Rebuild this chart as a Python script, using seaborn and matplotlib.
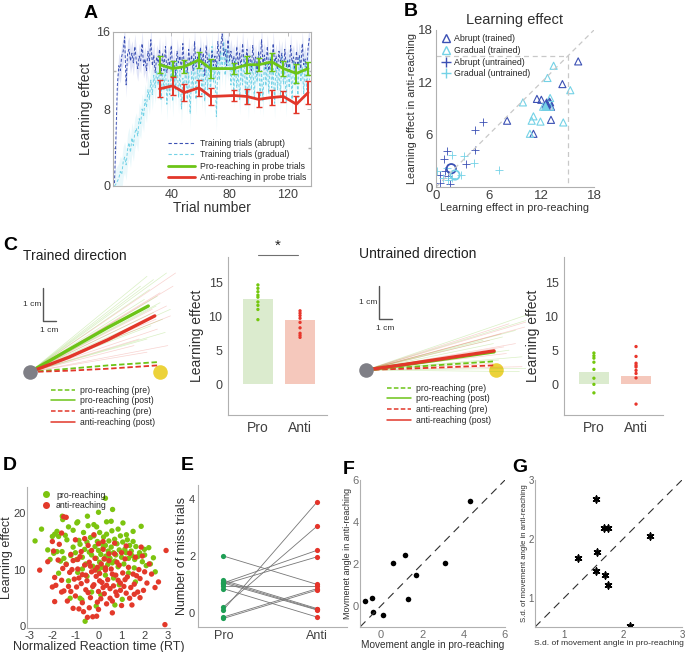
import numpy as np
import pandas as pd
import matplotlib
matplotlib.use("Agg")
import matplotlib.pyplot as plt
from matplotlib.lines import Line2D
from matplotlib.ticker import MultipleLocator
import seaborn as sns

# ---------------- data ----------------
# A: learning curves
abrupt_train = [0.3, 5.0, 10.5, 12.5, 12.0, 13.5, 14.0, 15.5, 10.5, 13.8, 14.2, 13.0, 13.8, 12.8, 14.5,
                13.0, 12.2, 13.5, 13.0, 14.8, 12.5, 13.2, 12.0, 14.0, 13.0, 15.2, 12.5, 13.6, 11.8, 13.4,
                12.8, 14.2, 11.5, 13.8, 12.0, 14.5, 11.8, 13.2, 12.5, 14.6, 12.0, 13.0, 11.5, 14.0, 12.8,
                13.5, 12.0, 14.8, 12.2, 13.0, 11.8, 14.2, 12.5, 13.6, 12.0, 15.0, 12.4, 13.4, 12.2, 14.4,
                12.6, 13.8, 11.5, 14.6, 12.8, 13.2, 12.0, 14.0, 12.5, 13.5, 12.2, 15.0, 13.0, 14.5, 15.8,
                13.5, 14.2, 12.5, 15.2, 13.0, 14.0, 12.8, 13.5, 12.0, 14.5, 12.5, 13.8, 12.2, 14.8, 13.0,
                12.4, 14.2, 12.8, 13.5, 12.0, 14.6, 12.6, 13.4, 11.8, 14.0, 12.5, 15.2, 12.8, 13.6, 12.2,
                14.5, 12.0, 13.2, 11.8, 14.8, 12.6, 13.5, 12.2, 14.0, 12.8, 13.8, 11.5, 14.2, 12.4, 13.0,
                12.0, 14.6, 12.8, 13.4, 11.8, 14.0, 12.5, 13.6, 12.2, 14.8, 12.6, 13.2, 12.0, 14.4, 15.5]
gradual_train = [0.0, 0.2, 0.5, 0.8, 1.5, 1.2, 2.5, 3.0, 2.2, 3.8, 4.5, 3.5, 5.0, 4.2, 5.5,
                 6.0, 5.2, 7.0, 6.5, 8.0, 7.2, 9.0, 8.2, 10.0, 9.0, 11.0, 9.5, 11.5, 10.2, 12.0,
                 10.5, 12.2, 9.0, 11.8, 10.0, 12.5, 8.5, 11.0, 9.5, 12.8, 8.8, 11.5, 10.0, 13.0, 9.2,
                 12.0, 8.0, 11.2, 9.8, 12.6, 9.0, 11.8, 7.5, 12.0, 10.2, 13.2, 9.0, 12.2, 10.5, 13.5,
                 9.5, 12.0, 8.8, 12.8, 10.0, 13.8, 9.2, 14.5, 10.8, 12.5, 7.2, 13.0, 11.0, 14.0, 12.0,
                 15.0, 11.5, 14.2, 12.5, 13.5, 10.5, 12.8, 9.8, 13.2, 10.2, 12.0, 9.0, 12.6, 10.5, 13.4,
                 9.5, 12.2, 8.5, 12.8, 10.0, 13.0, 9.2, 12.4, 10.8, 13.6, 9.0, 12.0, 8.8, 13.2, 10.4,
                 12.8, 9.6, 13.5, 10.2, 12.2, 8.6, 13.0, 10.0, 12.6, 9.4, 13.4, 10.6, 12.0, 8.8, 13.2,
                 10.2, 12.6, 9.0, 13.0, 10.4, 12.2, 9.2, 13.4, 10.8, 12.4, 9.6, 13.0, 10.0, 12.8, 11.0]
abrupt_sem = 1.3
gradual_sem = 1.6
probe_trials = [32, 41, 49, 59, 67, 83, 92, 100, 109, 117, 126, 134]
pro_probe = [12.6, 12.2, 12.4, 13.1, 12.2, 12.2, 12.6, 12.6, 12.9, 12.2, 11.7, 12.2]
pro_probe_err = [0.9, 0.8, 0.7, 0.8, 1.0, 0.6, 0.9, 0.7, 0.9, 0.8, 1.0, 0.7]
anti_probe = [10.1, 10.4, 9.7, 10.2, 9.3, 9.4, 9.3, 9.0, 9.2, 9.3, 8.5, 9.7]
anti_probe_err = [0.9, 0.9, 0.9, 0.8, 0.9, 0.6, 0.8, 0.8, 0.8, 0.6, 0.9, 1.2]

# B: pro vs anti learning effect
abr_tr_x = [16.2, 14.4, 11.5, 12.0, 13.0, 13.1, 12.6, 8.1, 13.1, 11.1, 12.9]
abr_tr_y = [14.4, 11.8, 10.1, 10.0, 9.7, 9.2, 9.2, 7.6, 7.7, 6.1, 9.8]
gra_tr_x = [13.4, 12.7, 15.3, 9.9, 13.0, 11.1, 10.9, 11.9, 14.5, 10.7, 13.0, 12.2]
gra_tr_y = [13.9, 12.5, 11.1, 9.7, 10.2, 8.1, 7.6, 7.5, 7.4, 6.1, 9.2, 9.2]
abr_un_x = [5.3, 4.4, 4.4, 1.25, 0.95, 3.4, 1.0, 0.5, 1.55, 0.4, 1.4]
abr_un_y = [7.4, 6.5, 4.2, 4.1, 3.2, 2.6, 1.8, 1.4, 0.4, 0.5, 1.3]
gra_un_x = [1.8, 3.2, 4.3, 7.2, 0.1, 0.8, 2.8, 1.4, 1.8, 1.2]
gra_un_y = [3.7, 3.5, 2.7, 1.9, 1.8, 1.0, 1.4, 0.8, 1.0, 2.2]
abr_tr_mean = (12.5, 9.6)
gra_tr_mean = (12.4, 9.3)
abr_un_mean = (1.74, 2.1)
gra_un_mean = (2.16, 1.37)

# C: trajectories (cm), end points of single trials
tr_pro_end_x = [9.0, 9.5, 10.5, 9.2, 9.8, 10.0, 9.5, 10.2, 8.8, 9.3, 10.4, 9.0, 8.5, 9.7, 10.8]
tr_pro_end_y = [2.9, 2.8, 3.0, 2.5, 2.3, 2.1, 1.8, 1.6, 2.2, 1.4, 1.2, 1.0, 2.6, 2.0, 1.9]
tr_anti_end_x = [11.2, 10.0, 10.5, 9.4, 10.8, 9.8, 8.4, 10.6, 9.0, 11.0, 9.7, 8.0]
tr_anti_end_y = [3.0, 2.4, 2.0, 1.9, 1.7, 1.3, 1.0, 0.8, 0.6, 2.6, 1.6, 0.8]
un_pro_end_x = [12.6, 12.3, 11.5, 10.5, 9.8, 11.0, 12.0, 10.2, 9.0, 12.5, 11.8]
un_pro_end_y = [1.7, 1.5, 1.2, 1.0, 0.8, 0.6, 0.4, 0.3, 0.9, 0.05, -0.05]
un_anti_end_x = [12.7, 12.2, 11.0, 10.4, 9.5, 10.8, 11.5, 9.8, 12.0, 10.6]
un_anti_end_y = [1.5, 1.3, 1.4, 1.1, 0.9, 0.5, 0.8, 0.2, 0.1, 0.7]
mean_x = [0, 3.0, 6.0, 9.1]
tr_pro_post_y = [0, 0.68, 1.35, 2.0]
tr_anti_post_x = [0, 3.0, 6.0, 9.6]
tr_anti_post_y = [0, 0.45, 0.98, 1.7]
un_pro_post_x = [0, 3.0, 6.0, 9.85]
un_pro_post_y = [0, 0.16, 0.33, 0.55]
un_anti_post_y = [0, 0.17, 0.35, 0.58]
pre_x = [0, 3.0, 6.0, 9.8]
tr_pro_pre_y = [0, 0.1, 0.2, 0.3]
tr_anti_pre_y = [0, 0.04, 0.1, 0.2]
un_pro_pre_y = [0, 0.08, 0.16, 0.26]
un_anti_pre_y = [0, 0.04, 0.08, 0.14]

# C: bar plots
groups = ["Pro", "Anti"]
tr_means = [12.5, 9.4]
tr_pro_subj = [14.6, 14.1, 13.6, 13.1, 12.8, 12.1, 11.6, 11.0, 9.5]
tr_anti_subj = [10.8, 10.45, 10.1, 9.7, 9.1, 8.3, 7.5, 7.2, 6.9]
un_means = [1.75, 1.2]
un_pro_subj = [4.6, 4.2, 3.85, 3.25, 2.2, 0.9, 0.0, -1.25]
un_anti_subj = [5.55, 4.1, 3.1, 2.8, 2.55, 2.05, 1.6, 0.95, -2.9]

# D: reaction time vs learning effect
pro_rt = [-2.75, -2.47, -2.0, -1.9, -1.8, -1.73, -1.57, -1.55, -0.94, -0.9, -0.48, -1.3, -1.44, -1.37,
          -1.94, -1.8, -1.58, -1.5, -1.73, -1.23, -0.8, -0.72, -0.58, -0.08, 0.3, 0.61, 0.35, 0.85,
          1.06, 1.85, 0.71, 1.14, 1.21, 1.42, 1.57, 1.78, 1.99, 2.18, 2.38, 2.46, 2.07, 1.03, 0.71,
          -1.65, -1.4, -1.2, -1.1, -1.0, -0.95, -0.85, -0.8, -0.7, -0.65, -0.6, -0.55, -0.5, -0.45,
          -0.4, -0.35, -0.3, -0.25, -0.2, -0.15, -0.1, -0.05, 0.0, 0.05, 0.05, 0.1, 0.12, 0.15, 0.2,
          0.22, 0.25, 0.3, 0.32, 0.35, 0.4, 0.42, 0.45, 0.5, 0.55, 0.58, 0.6, 0.65, 0.7, 0.75, 0.8,
          0.85, 0.9, 0.95, 1.0, 1.05, 1.1, 1.2, 1.25, 1.3, 1.35, 1.45, 1.5, 1.55, 1.62, 1.7, 1.9,
          2.0, 2.25, -2.1, -2.2, -0.9, -0.5, 0.0, 0.3, 0.65, 1.3, -0.3, 0.1, -1.1, -0.2, 0.55, 1.5,
          0.0, -0.7, -1.3, 0.9, 1.6, -0.1]
pro_le = [15.1, 17.2, 15.9, 16.3, 16.8, 15.9, 19.5, 18.9, 18.3, 18.5, 19.5, 17.6, 16.1, 15.3,
          12.9, 13.2, 13.2, 12.0, 9.35, 4.9, 4.9, 4.6, 0.8, 17.6, 22.7, 20.7, 18.5, 17.2,
          18.3, 17.7, 11.5, 13.6, 16.2, 13.3, 11.8, 13.0, 13.6, 13.9, 12.1, 9.6, 10.7, 4.7, 3.7,
          11.5, 11.0, 12.5, 14.0, 13.0, 11.8, 15.2, 14.5, 12.2, 16.6, 13.6, 11.0, 14.9, 17.8,
          13.1, 15.7, 12.6, 10.6, 16.0, 14.1, 12.0, 15.0, 13.4, 11.3, 16.6, 12.7, 14.7, 10.4, 13.9,
          15.8, 11.9, 14.3, 12.4, 16.3, 10.9, 13.3, 15.1, 12.0, 14.0, 16.9, 11.2, 13.0, 15.4, 12.6, 14.6,
          10.5, 13.5, 16.0, 12.2, 14.9, 11.0, 13.0, 15.3, 12.0, 14.3, 12.5, 15.0, 10.3, 14.1, 12.3, 11.4,
          12.6, 11.0, 11.8, 13.5, 9.5, 8.8, 9.8, 9.0, 8.5, 9.4, 6.0, 5.5, 17.0, 18.0, 18.6, 16.8,
          20.2, 10.1, 8.0, 7.3, 7.8, 3.5]
anti_rt = [-2.55, -2.0, -1.95, -1.9, -1.85, -1.9, -1.55, -1.4, -1.5, -1.35, -1.3, -1.25, -1.2, -1.1,
           -1.05, -1.0, -0.95, -0.9, -0.85, -0.8, -0.75, -0.7, -0.65, -0.6, -0.55, -0.5, -0.45, -0.4,
           -0.35, -0.3, -0.25, -0.2, -0.15, -0.1, -0.05, 0.0, 0.05, 0.1, 0.12, 0.15, 0.2, 0.25, 0.3,
           0.35, 0.4, 0.45, 0.5, 0.55, 0.6, 0.65, 0.7, 0.75, 0.8, 0.85, 0.9, 0.95, 1.0, 1.05, 1.1,
           1.15, 1.2, 1.25, 1.3, 1.4, 1.45, 1.5, 1.55, 1.6, 1.7, 1.75, 1.8, 1.85, 1.95, 2.0, 2.1, 2.2,
           2.93, 2.88, -1.51, -0.48, -0.08, -1.7, -1.6, -0.6, -0.2, 0.2, 0.7, 1.2, -1.0, 0.0, -0.75,
           -0.3, 0.45, 1.0, -1.4, -0.35, 0.25, 0.8, 1.35, 1.9, -1.75, -1.15, -0.55, 0.05, 0.6, 1.15,
           1.65, -1.6, -0.85, -0.15, 0.35, 0.95, 1.55, -1.2, -0.45, 0.2, 0.75, 1.35, -0.7, -0.05, 0.5,
           0.0, 0.6, -1.1, -1.6, 2.45, 2.3, -2.2, -2.0, 2.6, 1.8, -0.4, 0.3, -0.25, -0.9]
anti_le = [9.9, 15.0, 13.3, 8.6, 7.2, 4.3, 10.2, 19.3, 6.2, 4.4, 7.0, 9.5, 12.7, 11.6,
           8.3, 5.3, 6.9, 10.1, 3.0, 12.3, 7.5, 9.1, 2.5, 10.8, 6.4, 8.0, 14.3, 11.3,
           5.0, 9.6, 1.6, 7.3, 12.0, 8.8, 10.4, 6.1, 9.3, 4.8, 11.0, 7.7, 13.6, 5.7, 9.9,
           3.9, 8.2, 11.6, 6.6, 10.1, 4.4, 7.1, 12.8, 9.0, 5.4, 8.1, 10.8, 6.3, 3.6, 9.4, 7.0,
           11.9, 5.8, 8.7, 10.4, 6.8, 3.7, 9.2, 7.4, 12.2, 6.0, 10.0, 8.4, 14.0, 6.3, 9.6, 7.6, 11.0,
           13.4, 0.2, 19.4, 1.5, 1.7, 14.5, 16.5, 15.5, 16.2, 15.0, 14.7, 14.2, 15.3, 14.6, 13.2,
           13.4, 12.8, 13.0, 10.9, 10.6, 11.9, 11.3, 12.9, 12.4, 11.7, 10.0, 9.0, 8.0, 9.2, 8.2,
           8.9, 8.1, 8.5, 9.9, 7.2, 7.6, 5.6, 6.1, 5.9, 6.8, 6.0, 4.9, 4.1, 4.2, 4.9,
           2.9, 2.3, 3.1, 6.0, 6.8, 9.2, 11.4, 6.9, 7.8, 5.0, 3.2, 10.3, 7.0, 11.8]

# E: miss trials per subject
miss_pro = [2.0, 0.1, 0.2, 1.05, 1.0, 1.15, 1.1, 1.05, 0.95, 0.85, -0.15, -0.2]
miss_anti = [1.0, 3.9, 3.05, 2.2, 1.97, 0.15, 0.12, 0.1, 0.95, -0.15, 0.85, 0.8]

# F: movement angle
angle_pro = [-0.78, -0.42, -0.39, 0.11, 0.58, 1.16, 1.3, 1.72, 3.09, 4.33]
angle_anti = [0.22, 0.38, -0.3, -0.41, 2.06, 2.41, 0.35, 1.5, 2.05, 4.98]

# G: s.d. of movement angle
sd_pro = [1.54, 1.67, 1.74, 1.23, 1.56, 1.53, 1.69, 1.74, 2.46, 2.11]
sd_anti = [2.67, 2.19, 2.19, 1.68, 1.77, 1.45, 1.39, 1.22, 2.05, 0.51]

# ---------------- style ----------------
sns.set_theme(style="white")
plt.rcParams["font.family"] = ["Liberation Sans", "DejaVu Sans"]
plt.rcParams["axes.unicode_minus"] = False
plt.rcParams["axes.edgecolor"] = "#b0b0b0"
plt.rcParams["xtick.color"] = "#b0b0b0"
plt.rcParams["ytick.color"] = "#b0b0b0"
plt.rcParams["xtick.labelcolor"] = "#404040"
plt.rcParams["ytick.labelcolor"] = "#404040"
plt.rcParams["axes.labelcolor"] = "#303030"
plt.rcParams["axes.linewidth"] = 0.8

W, H = 685, 652
fig = plt.figure(figsize=(W / 100, H / 100), dpi=100)


def rect(l, t, r, b):
    return [l / W, 1 - b / H, (r - l) / W, (b - t) / H]


def ticks_on(ax, size=3):
    ax.tick_params(direction="in", length=size, width=0.6, pad=2)


C_ABR = "#3b50b4"
C_GRA = "#74d2e6"
C_PRO = "#6cc417"
C_ANTI = "#e2372a"
C_PRO_BAR = "#dbf0c9"
C_ANTI_BAR = "#ffc2b2"

# ---------------- A ----------------
axA = fig.add_axes(rect(113, 32, 311, 186))
trials = np.arange(1, len(abrupt_train) + 1)
ab = np.array(abrupt_train)
gr = np.array(gradual_train)
axA.fill_between(trials, ab - abrupt_sem, ab + abrupt_sem, color="#d5daf5", alpha=0.7, lw=0)
axA.fill_between(trials, gr - gradual_sem, gr + gradual_sem, color="#dcf4f9", alpha=0.6, lw=0)
sns.lineplot(x=trials, y=gr, ax=axA, color=C_GRA, lw=0.7, linestyle=(0, (3, 2)))
sns.lineplot(x=trials, y=ab, ax=axA, color=C_ABR, lw=0.7, linestyle=(0, (3, 2)))
sns.lineplot(x=probe_trials, y=pro_probe, ax=axA, color=C_PRO, lw=2)
axA.errorbar(probe_trials, pro_probe, yerr=pro_probe_err, fmt="none", ecolor=C_PRO, elinewidth=1.4, capsize=2)
sns.lineplot(x=probe_trials, y=anti_probe, ax=axA, color=C_ANTI, lw=2)
axA.errorbar(probe_trials, anti_probe, yerr=anti_probe_err, fmt="none", ecolor=C_ANTI, elinewidth=1.4, capsize=2)
axA.set_xlim(0, 136)
axA.set_ylim(0, 16)
axA.set_xticks([40, 80, 120])
axA.set_yticks([0, 8, 16])
axA.yaxis.set_minor_locator(MultipleLocator(4))
axA.tick_params(axis="both", labelsize=9)
ticks_on(axA)
axA.tick_params(which="minor", direction="in", length=2, left=True, right=True)
axA.tick_params(right=True, top=True)
axA.set_xlabel("Trial number", fontsize=10, labelpad=0)
axA.set_ylabel("Learning effect", fontsize=10, labelpad=2)
hA = [Line2D([], [], color=C_ABR, lw=0.8, ls=(0, (3, 2))),
      Line2D([], [], color=C_GRA, lw=0.8, ls=(0, (3, 2))),
      Line2D([], [], color=C_PRO, lw=2),
      Line2D([], [], color=C_ANTI, lw=2)]
axA.legend(hA, ["Training trials (abrupt)", "Training trials (gradual)",
                "Pro-reaching in probe trials", "Anti-reaching in probe trials"],
           loc="lower right", fontsize=6.2, frameon=False, handlelength=3.2,
           borderaxespad=0.1, labelspacing=0.25, handletextpad=0.6)

# ---------------- B ----------------
axB = fig.add_axes(rect(436, 30, 594, 187))
axB.plot([0, 18], [0, 18], color="#c8c8c8", ls=(0, (4, 3)), lw=0.9)
axB.plot([0, 15, 15], [15, 15, 0], color="#c8c8c8", ls=(0, (4, 3)), lw=0.9)
for xs, ys, c, m in [(abr_tr_x, abr_tr_y, C_ABR, "^"), (gra_tr_x, gra_tr_y, C_GRA, "^")]:
    sns.scatterplot(x=xs, y=ys, ax=axB, marker=m, s=26, color=c, edgecolor=c, linewidth=0.8)
    axB.collections[-1].set_facecolor("none")
for xs, ys, c in [(abr_un_x, abr_un_y, C_ABR), (gra_un_x, gra_un_y, C_GRA)]:
    sns.scatterplot(x=xs, y=ys, ax=axB, marker="+", s=34, color=c, linewidth=0.6)
sns.scatterplot(x=[abr_tr_mean[0]], y=[abr_tr_mean[1]], ax=axB, marker="^", s=45, color=C_ABR, edgecolor=C_ABR)
sns.scatterplot(x=[gra_tr_mean[0]], y=[gra_tr_mean[1]], ax=axB, marker="^", s=35, color=C_GRA, edgecolor=C_GRA)
for (mx, my), c in [(abr_un_mean, C_ABR), (gra_un_mean, C_GRA)]:
    sns.scatterplot(x=[mx], y=[my], ax=axB, marker="o", s=45, color=c, edgecolor=c, linewidth=1.3)
    axB.collections[-1].set_facecolor("none")
axB.set_xlim(0, 18)
axB.set_ylim(0, 18)
axB.set_xticks([0, 6, 12, 18])
axB.set_yticks([0, 6, 12, 18])
axB.tick_params(axis="both", labelsize=9.5)
ticks_on(axB)
sns.despine(ax=axB)
axB.set_title("Learning effect", fontsize=10.5, pad=4, color="#303030")
axB.set_xlabel("Learning effect in pro-reaching", fontsize=7.8, labelpad=1)
axB.set_ylabel("Learning effect in anti-reaching", fontsize=7.8, labelpad=1)
hB = [Line2D([], [], marker="^", ls="none", mec=C_ABR, mfc="none", ms=6),
      Line2D([], [], marker="^", ls="none", mec=C_GRA, mfc="none", ms=6),
      Line2D([], [], marker="+", ls="none", mec=C_ABR, ms=7),
      Line2D([], [], marker="+", ls="none", mec=C_GRA, ms=7)]
axB.legend(hB, ["Abrupt (trained)", "Gradual (trained)", "Abrupt (untrained)", "Gradual (untrained)"],
           loc="upper left", fontsize=6.3, frameon=False, handlelength=1.2, borderaxespad=0.1,
           labelspacing=0.3, handletextpad=0.4)


# ---------------- C trajectories ----------------
def trajectories(ax, pend_x, pend_y, aend_x, aend_y, ppost, apost, ppre_y, apre_y, title):
    for ex, ey in zip(pend_x, pend_y):
        sns.lineplot(x=[0, ex], y=[0, ey], ax=ax, color=C_PRO, lw=0.5, alpha=0.25)
    for ex, ey in zip(aend_x, aend_y):
        sns.lineplot(x=[0, ex], y=[0, ey], ax=ax, color=C_ANTI, lw=0.5, alpha=0.22)
    sns.lineplot(x=pre_x, y=ppre_y, ax=ax, color=C_PRO, lw=1.3, linestyle=(0, (3, 1.5)))
    sns.lineplot(x=pre_x, y=apre_y, ax=ax, color=C_ANTI, lw=1.3, linestyle=(0, (3, 1.5)))
    sns.lineplot(x=ppost[0], y=ppost[1], ax=ax, color=C_PRO, lw=2.4)
    sns.lineplot(x=apost[0], y=apost[1], ax=ax, color=C_ANTI, lw=2.4)
    ax.scatter([0], [0], s=110, color="#7f7f86", zorder=5, lw=0)
    ax.scatter([10], [0], s=110, color="#ecd23a", zorder=1, lw=0)
    ax.plot([1.0, 1.0, 2.0], [2.55, 1.55, 1.55], color="#555555", lw=1)
    ax.text(0.85, 2.05, "1 cm", fontsize=6, ha="right", va="center", color="#303030")
    ax.text(1.5, 1.35, "1 cm", fontsize=6, ha="center", va="top", color="#303030")
    ax.set_xlim(-10 / 13, 160 / 13)
    ax.set_ylim(-8 / 33, 100 / 33)
    ax.axis("off")
    ax.text(-0.55, 3.3, title, fontsize=10, ha="left", va="bottom", color="#202020")
    hC = [Line2D([], [], color=C_PRO, lw=1.1, ls=(0, (3, 1.5))),
          Line2D([], [], color=C_PRO, lw=1.1),
          Line2D([], [], color=C_ANTI, lw=1.1, ls=(0, (3, 1.5))),
          Line2D([], [], color=C_ANTI, lw=1.1)]
    ax.legend(hC, ["pro-reaching (pre)", "pro-reaching (post)", "anti-reaching (pre)", "anti-reaching (post)"],
              loc="upper left", bbox_to_anchor=(0.16, -0.02), fontsize=6.2, frameon=False,
              handlelength=2.8, labelspacing=0.2, handletextpad=0.6, borderaxespad=0)


axC1 = fig.add_axes(rect(20, 272, 190, 380))
trajectories(axC1, tr_pro_end_x, tr_pro_end_y, tr_anti_end_x, tr_anti_end_y,
             (mean_x, tr_pro_post_y), (tr_anti_post_x, tr_anti_post_y),
             tr_pro_pre_y, tr_anti_pre_y, "Trained direction")
axC3 = fig.add_axes(rect(356, 270, 526, 378))
trajectories(axC3, un_pro_end_x, un_pro_end_y, un_anti_end_x, un_anti_end_y,
             (un_pro_post_x, un_pro_post_y), (un_pro_post_x, un_anti_post_y),
             un_pro_pre_y, un_anti_pre_y, "Untrained direction")


# ---------------- C bars ----------------
def bars(ax, means, pro_subj, anti_subj):
    df = pd.DataFrame({"group": groups, "value": means})
    sns.barplot(data=df, x="group", y="value", hue="group", palette=[C_PRO_BAR, C_ANTI_BAR],
                width=0.73, ax=ax, legend=False, edgecolor="none")
    subj = pd.DataFrame({"group": ["Pro"] * len(pro_subj) + ["Anti"] * len(anti_subj),
                         "value": pro_subj + anti_subj})
    sns.stripplot(data=subj, x="group", y="value", hue="group", palette=["#74c70e", "#e8352b"],
                  jitter=False, size=2.4, ax=ax, legend=False)
    ax.set_xlim(-0.71, 1.64)
    ax.set_ylim(-4.5, 18.7)
    ax.set_yticks([0, 5, 10, 15])
    ax.tick_params(axis="y", labelsize=9, direction="out", length=2, width=0.6, pad=2)
    ax.tick_params(axis="x", labelsize=10, length=0, pad=4)
    ax.set_xlabel("")
    ax.set_ylabel("Learning effect", fontsize=10, labelpad=3)
    sns.despine(ax=ax)


axC2 = fig.add_axes(rect(228, 257, 327, 415))
bars(axC2, tr_means, tr_pro_subj, tr_anti_subj)
axC2.plot([0, 0.95], [19.0, 19.0], color="#707070", lw=0.8, clip_on=False)
axC2.text(0.48, 19.3, "*", ha="center", va="bottom", fontsize=11, color="#202020")
axC4 = fig.add_axes(rect(564, 257, 663, 415))
bars(axC4, un_means, un_pro_subj, un_anti_subj)

# ---------------- D ----------------
axD = fig.add_axes(rect(27, 487, 170, 628))
dfD = pd.DataFrame({"rt": pro_rt + anti_rt, "le": pro_le + anti_le,
                    "type": ["pro-reaching"] * len(pro_rt) + ["anti-reaching"] * len(anti_rt)})
sns.scatterplot(data=dfD, x="rt", y="le", hue="type", palette={"pro-reaching": "#7cc40f", "anti-reaching": "#e3392a"},
                s=15, linewidth=0, ax=axD)
axD.set_xlim(-3.1, 3.1)
axD.set_ylim(-0.4, 24.7)
axD.set_xticks([-3, -2, -1, 0, 1, 2, 3])
axD.set_yticks([0, 10, 20])
axD.tick_params(axis="both", labelsize=8)
ticks_on(axD, 2)
axD.tick_params(axis="y", pad=1)
sns.despine(ax=axD)
axD.set_xlabel("Normalized Reaction time (RT)", fontsize=9, labelpad=0)
axD.set_ylabel("Learning effect", fontsize=9, labelpad=0)
axD.legend(loc="upper left", fontsize=6.3, frameon=False, handletextpad=0.1, borderaxespad=0,
           labelspacing=0.2, markerscale=1.3, bbox_to_anchor=(0.05, 1.0))

# ---------------- E ----------------
axE = fig.add_axes(rect(198, 485, 347, 627))
for p, a in zip(miss_pro, miss_anti):
    sns.lineplot(x=[0, 1], y=[p, a], ax=axE, color="#777777", lw=0.6)
sns.scatterplot(x=[0] * len(miss_pro), y=miss_pro, ax=axE, color="#1f9e55", s=14, linewidth=0, zorder=3)
sns.scatterplot(x=[1] * len(miss_anti), y=miss_anti, ax=axE, color="#e5342a", s=14, linewidth=0, zorder=3)
axE.set_xlim(-0.27, 1.32)
axE.set_ylim(-0.5, 4.5)
axE.set_xticks([0, 1])
axE.set_xticklabels(["Pro", "Anti"])
axE.xaxis.set_minor_locator(MultipleLocator(0.2))
axE.set_yticks([0, 2, 4])
axE.yaxis.set_minor_locator(MultipleLocator(1))
axE.tick_params(axis="x", labelsize=9)
axE.tick_params(axis="y", labelsize=8)
ticks_on(axE, 2)
axE.tick_params(which="minor", direction="in", length=1.5, width=0.6)
sns.despine(ax=axE)
axE.set_ylabel("Number of miss trials", fontsize=9, labelpad=1)

# ---------------- F ----------------
axF = fig.add_axes(rect(360, 480, 505, 627))
axF.plot([-1, 6], [-1, 6], color="#303030", lw=0.8, ls=(0, (7, 5)))
sns.scatterplot(x=angle_pro, y=angle_anti, ax=axF, color="black", s=16, linewidth=0)
axF.set_xlim(-1, 6)
axF.set_ylim(-1, 6)
axF.set_xticks([0, 2, 4, 6])
axF.set_yticks([0, 2, 4, 6])
axF.xaxis.set_minor_locator(MultipleLocator(1))
axF.yaxis.set_minor_locator(MultipleLocator(1))
axF.tick_params(axis="both", labelsize=8, labelcolor="#707070")
ticks_on(axF, 2)
axF.tick_params(axis="y", pad=1)
axF.tick_params(which="minor", direction="in", length=2, width=0.6)
sns.despine(ax=axF)
axF.set_xlabel("Movement angle in pro-reaching", fontsize=7.2, labelpad=0)
axF.set_ylabel("Movmenet angle in anti-reaching", fontsize=6.5, labelpad=0)

# ---------------- G ----------------
axG = fig.add_axes(rect(535, 480, 682, 627))
axG.plot([0.5, 3], [0.5, 3], color="#303030", lw=0.8, ls=(0, (7, 5)))
sns.scatterplot(x=sd_pro, y=sd_anti, ax=axG, color="black", marker=(6, 2, 0), s=22, linewidth=1.2)
axG.set_xlim(0.5, 3)
axG.set_ylim(0.5, 3)
axG.set_xticks([1, 2, 3])
axG.set_yticks([1, 2, 3])
axG.xaxis.set_minor_locator(MultipleLocator(0.5))
axG.yaxis.set_minor_locator(MultipleLocator(0.5))
axG.tick_params(axis="both", labelsize=7, labelcolor="#606060")
ticks_on(axG, 2)
axG.tick_params(axis="y", pad=1)
axG.tick_params(which="minor", direction="in", length=2, width=0.6)
sns.despine(ax=axG)
axG.set_xlabel("S.d. of movement angle in pro-reaching", fontsize=6.1, labelpad=0)
axG.set_ylabel("S.d. of movement angle in anti-reaching", fontsize=5.6, labelpad=0)

# ---------------- panel letters ----------------
for letter, x, y in [("A", 84, 18), ("B", 404, 16), ("C", 3, 250), ("D", 3, 470),
                     ("E", 181, 470), ("F", 343, 474), ("G", 512, 472)]:
    fig.text(x / W, 1 - y / H, letter, fontsize=14, fontweight="bold", color="black",
             family=["Liberation Sans Narrow", "Liberation Sans"], va="baseline")

fig.savefig("out.png", dpi=100)
